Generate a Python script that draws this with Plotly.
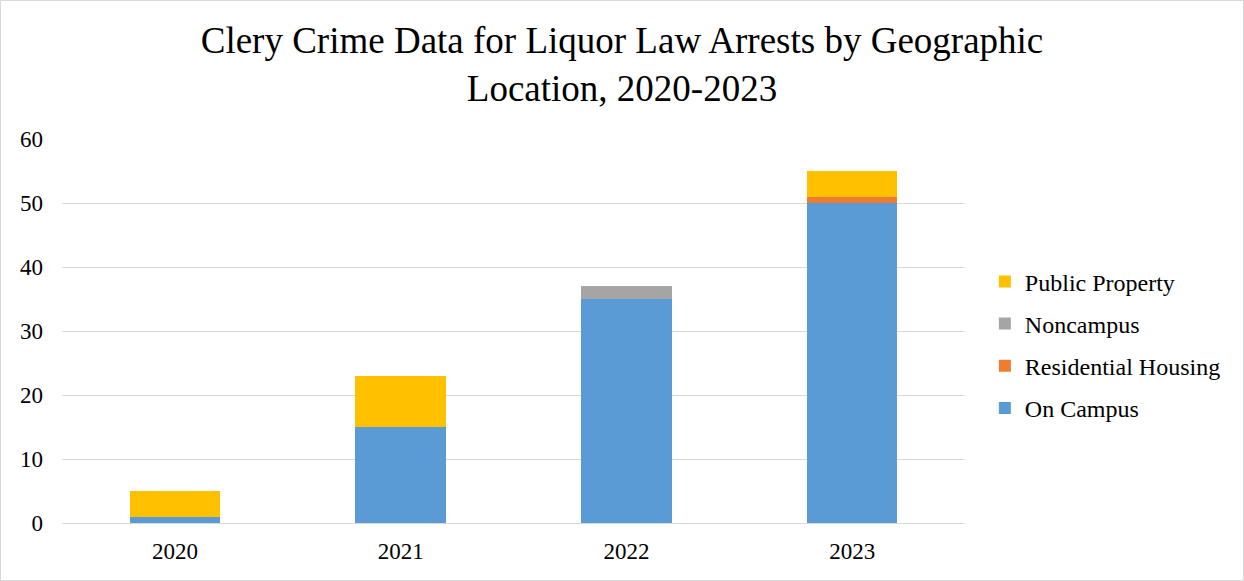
import plotly.graph_objects as go

years = ["2020", "2021", "2022", "2023"]
on_campus = [1, 15, 35, 50]
residential = [0, 0, 0, 1]
noncampus = [0, 0, 2, 0]
public_property = [4, 8, 0, 4]

W, H = 1244, 581
ML, MR, MT, MB = 62, 279, 139, 58

series = [
    ("On Campus", on_campus, "#5B9BD5", 4),
    ("Residential Housing", residential, "#ED7D31", 3),
    ("Noncampus", noncampus, "#A5A5A5", 2),
    ("Public Property", public_property, "#FFC000", 1),
]

fig = go.Figure()
for name, vals, col, rank in series:
    fig.add_trace(go.Bar(x=years, y=vals, name=name, marker=dict(color=col, line=dict(width=0)),
                         legendgroup=name, legendrank=rank))

font = "Liberation Serif, Times New Roman, serif"
fig.update_layout(
    width=W, height=H,
    margin=dict(l=ML, r=MR, t=MT, b=MB),
    barmode="stack", bargap=0.6,
    paper_bgcolor="white", plot_bgcolor="white",
    font=dict(family=font, size=23, color="#000000"),
    title=dict(text="Clery Crime Data for Liquor Law Arrests by Geographic<br>Location, 2020-2023",
               x=0.5, xref="container", xanchor="center", yref="container", y=1 - 53 / H, yanchor="middle",
               font=dict(family=font, size=37, color="#000000")),
    legend=dict(x=1.022, xanchor="left", y=0.464, yanchor="middle", traceorder="grouped",
                tracegroupgap=8, font=dict(family=font, size=24, color="#000000"),
                itemwidth=30, bgcolor="rgba(0,0,0,0)"),
    xaxis=dict(showgrid=False, showline=False, ticks="", tickfont=dict(size=23), ticklabelstandoff=12),
    yaxis=dict(range=[0, 60], dtick=10, showgrid=True, gridcolor="#D9D9D9", gridwidth=1.3,
               zeroline=True, zerolinecolor="#D9D9D9", zerolinewidth=1.3, ticks="",
               ticklabelstandoff=18, tickfont=dict(size=23), showline=False),
)

pw = W - ML - MR
ph = H - MT - MB
fig.add_shape(type="rect", xref="paper", yref="paper",
              x0=(0.5 - ML) / pw, x1=(W - 0.5 - ML) / pw,
              y0=(0.5 - MB) / ph, y1=(H - 0.5 - MB) / ph,
              line=dict(color="#D9D9D9", width=1), fillcolor="rgba(0,0,0,0)", layer="below")

fig.write_html("out.html")
